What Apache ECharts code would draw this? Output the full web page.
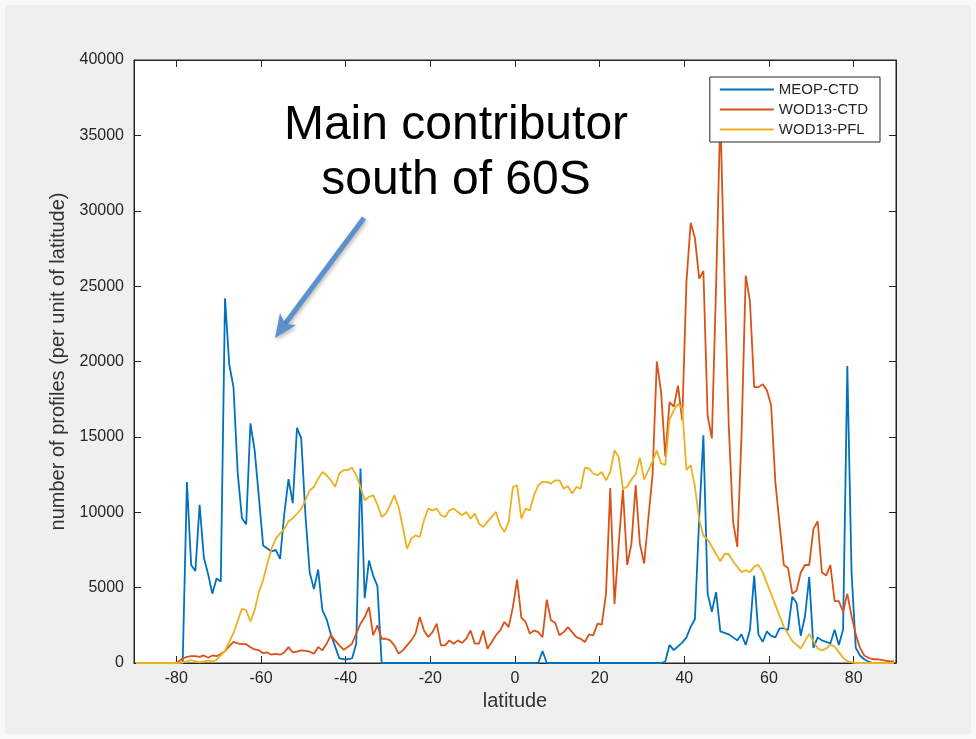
<!DOCTYPE html>
<html>
<head>
<meta charset="utf-8">
<title>Profiles per latitude</title>
<script src="https://cdn.jsdelivr.net/npm/echarts@6/dist/echarts.min.js"></script>
<style>
  html, body { margin: 0; padding: 0; background: #f8f8f8; }
  #main { width: 976px; height: 739px; }
</style>
</head>
<body>
<div id="main"></div>
<script>
// latitude bin centres, one per degree
const lat = Array.from({ length: 180 }, (_, i) => -89.5 + i);

const xTicks = [-80, -60, -40, -20, 0, 20, 40, 60, 80];
const seriesNames = ['MEOP-CTD', 'WOD13-CTD', 'WOD13-PFL'];
const seriesColors = ['#0072bd', '#d95319', '#edb120'];

const meopCtd = [
  0, 0, 0, 0, 0, 0, 0, 0, 0, 0,                                   // -89.5 .. -80.5
  0, 0, 12000, 6500, 6100, 10500, 7000, 5900, 4600, 5600,         // -79.5 .. -70.5
  5400, 24200, 19800, 18300, 12600, 9600, 9200, 15900, 14100, 11000,
  7800, 7600, 7400, 7500, 6900, 9900, 12200, 10600, 15600, 14900,
  9800, 6000, 4900, 6200, 3500, 2900, 1900, 1100, 300, 250,
  250, 300, 1300, 12900, 4300, 6800, 5800, 5100, 0, 0,            // -39.5 .. -30.5
  0, 0, 0, 0, 0, 0, 0, 0, 0, 0,
  0, 0, 0, 0, 0, 0, 0, 0, 0, 0,
  0, 0, 0, 0, 0, 0, 0, 0, 0, 0,
  0, 0, 0, 0, 0, 0, 800, 0, 0, 0,                                 // 0.5 .. 9.5
  0, 0, 0, 0, 0, 0, 0, 0, 0, 0,
  0, 0, 0, 0, 0, 0, 0, 0, 0, 0,
  0, 0, 0, 0, 0, 100, 1200, 850, 1100, 1350,                      // 30.5 .. 39.5
  1700, 2400, 2900, 9600, 15100, 4600, 3400, 4700, 2100, 2000,
  1900, 1700, 1500, 1900, 1200, 2200, 5800, 1900, 1400, 2100,
  1800, 1700, 2300, 2300, 2200, 4400, 4000, 1800, 3100, 5700,
  1000, 1700, 1500, 1400, 1300, 2200, 1200, 2200, 19700, 6000,
  1000, 500, 250, 100, 0, 0, 0, 0, 0, 0                           // 80.5 .. 89.5
];

const wod13Ctd = [
  0, 0, 0, 0, 0, 0, 0, 0, 0, 0,
  100, 300, 400, 450, 450, 400, 500, 350, 500, 450,
  600, 800, 1100, 1400, 1300, 1250, 1250, 1050, 900, 850,
  650, 700, 550, 600, 550, 700, 1050, 700, 750, 840,
  800, 750, 620, 1060, 840, 1280, 1840, 1500, 1170, 880,
  1060, 1280, 1950, 2610, 3050, 3700, 1840, 2500, 1610, 1610,
  1500, 1170, 620, 840, 1170, 1500, 1950, 3050, 2160, 1720,
  2050, 2610, 1170, 1170, 1500, 1280, 1500, 1330, 1610, 2160,
  1280, 1280, 2160, 950, 1390, 1840, 2160, 2720, 2380, 3710,
  5530, 3010, 2720, 1950, 2160, 2050, 1720, 4200, 2830, 2650,
  1840, 2050, 2380, 2050, 1720, 1610, 1390, 1900, 1840, 2610,
  2550, 4600, 11600, 3900, 7900, 11500, 6500, 7900, 11800, 7900,
  6600, 9600, 12500, 20000, 18000, 13700, 17300, 17000, 18400, 16100,
  25300, 29200, 28200, 25500, 26000, 16400, 14900, 25000, 36500, 25300,
  15700, 9400, 7700, 15000, 25700, 24000, 18300, 18300, 18500, 18100,
  17100, 12000, 9200, 6500, 6300, 4600, 4800, 6000, 6500, 6500,
  8900, 9400, 6000, 5800, 6500, 4100, 4100, 3400, 4600, 3100,
  1900, 1000, 500, 350, 250, 250, 200, 150, 120, 100
];

const wod13Pfl = [
  0, 0, 0, 0, 0, 0, 0, 0, 0, 0,
  0, 50, 100, 200, 100, 50, 100, 150, 100, 200,
  500, 800, 1400, 2000, 2800, 3600, 3500, 2750, 3500, 4700,
  5500, 6600, 7600, 8250, 8600, 8900, 9400, 9600, 9900, 10200,
  10800, 11460, 11680, 12230, 12670, 12450, 12120, 11680, 12570, 12790,
  12790, 12960, 12450, 11680, 10800, 11020, 11130, 10500, 9690, 9910,
  10470, 11130, 10350, 9020, 7580, 8250, 8470, 8360, 9460, 10240,
  10130, 10240, 9800, 9690, 10130, 10240, 10020, 9800, 10020, 9580,
  9910, 9240, 9020, 9360, 9690, 10020, 9130, 8690, 9360, 11680,
  11790, 9580, 10240, 10130, 11130, 11790, 12010, 12010, 11900, 12120,
  12120, 11570, 11720, 11240, 11680, 11570, 12960, 12900, 12570, 12450,
  12670, 12120, 12670, 14110, 13670, 11570, 11690, 12170, 12530, 13620,
  12170, 12770, 13380, 14100, 13250, 13130, 16150, 16750, 17200, 16870,
  12800, 13130, 11690, 9520, 8440, 8190, 7710, 7230, 6750, 7230,
  7230, 6750, 6390, 6030, 6150, 6030, 6390, 6510, 6030, 5300,
  4580, 3860, 3130, 2410, 1930, 1450, 1210, 960, 1450, 1930,
  1450, 960, 840, 960, 1210, 1090, 720, 360, 120, 50,
  0, 0, 0, 0, 0, 0, 0, 0, 0, 0
];

const allValues = [meopCtd, wod13Ctd, wod13Pfl];

const chart = echarts.init(document.getElementById('main'));
const font = 'Liberation Sans, Arial, Helvetica, sans-serif';
const axisColor = '#262626';

// arrow geometry for the annotation
const arrowStart = [364, 218];
const arrowTip = [275, 338];

const option = {
  backgroundColor: '#efefef',
  animation: false,
  textStyle: { fontFamily: font },
  grid: {
    left: 134, top: 60, width: 762, height: 603,
    show: true, backgroundColor: '#fff', borderColor: axisColor, borderWidth: 1
  },
  legend: {
    data: seriesNames,
    orient: 'vertical',
    right: 96, top: 77,
    backgroundColor: '#fff',
    borderColor: axisColor, borderWidth: 1,
    padding: [5, 12, 5, 10],
    itemGap: 5,
    icon: 'rect',
    itemWidth: 54, itemHeight: 2,
    textStyle: { fontSize: 15, color: axisColor, fontFamily: font, lineHeight: 14 }
  },
  xAxis: [{
    type: 'value', min: -90, max: 90,
    name: 'latitude', nameLocation: 'middle', nameGap: 25,
    nameTextStyle: { fontSize: 20, color: '#333' },
    axisLine: { onZero: false, lineStyle: { color: axisColor } },
    axisTick: { inside: true, length: 7, customValues: xTicks, lineStyle: { color: axisColor } },
    axisLabel: { customValues: xTicks, fontSize: 16, color: axisColor, margin: 8 },
    splitLine: { show: false }
  }, {
    type: 'value', min: -90, max: 90, position: 'top',
    axisLine: { onZero: false, lineStyle: { color: axisColor } },
    axisTick: { inside: true, length: 7, customValues: xTicks, lineStyle: { color: axisColor } },
    axisLabel: { show: false },
    splitLine: { show: false }
  }],
  yAxis: [{
    type: 'value', min: 0, max: 40000, interval: 5000,
    name: 'number of profiles (per unit of latitude)',
    nameLocation: 'middle', nameGap: 50,
    nameTextStyle: { fontSize: 20, color: '#333' },
    axisLine: { show: true, onZero: false, lineStyle: { color: axisColor } },
    axisTick: { show: true, inside: true, length: 7, lineStyle: { color: axisColor } },
    axisLabel: { fontSize: 16, color: axisColor, margin: 10, formatter: v => String(v) },
    splitLine: { show: false }
  }, {
    type: 'value', min: 0, max: 40000, interval: 5000, position: 'right',
    axisLine: { show: true, onZero: false, lineStyle: { color: axisColor } },
    axisTick: { show: true, inside: true, length: 7, lineStyle: { color: axisColor } },
    axisLabel: { show: false },
    splitLine: { show: false }
  }],
  series: seriesNames.map((name, k) => ({
    name: name,
    type: 'line',
    xAxisIndex: 0, yAxisIndex: 0,
    symbol: 'none',
    lineStyle: { width: 1.8, color: seriesColors[k] },
    itemStyle: { color: seriesColors[k] },
    data: lat.map((x, i) => [x, allValues[k][i]])
  })),
  graphic: [
    {
      type: 'rect', silent: true, z: 100,
      shape: { x: 0, y: 0, width: 976, height: 739 },
      style: { fill: 'none', stroke: '#f9f9f9', lineWidth: 10 }
    },
    {
      type: 'text', z: 100,
      style: { text: 'Main contributor', x: 456, y: 126, font: '48px ' + font,
               fill: '#000', textAlign: 'center', textVerticalAlign: 'middle' }
    },
    {
      type: 'text', z: 100,
      style: { text: 'south of 60S', x: 456, y: 181, font: '48px ' + font,
               fill: '#000', textAlign: 'center', textVerticalAlign: 'middle' }
    },
    {
      type: 'group', z: 100,
      children: [
        {
          type: 'line',
          shape: { x1: arrowStart[0], y1: arrowStart[1], x2: 285, y2: 324 },
          style: { stroke: '#5b91cc', lineWidth: 5, shadowBlur: 4, shadowColor: 'rgba(0,0,0,0.3)', shadowOffsetX: 1, shadowOffsetY: 2 }
        },
        {
          type: 'polygon',
          shape: { points: [arrowTip, [280, 313], [285, 324], [296, 325]] },
          style: { fill: '#5b91cc', shadowBlur: 4, shadowColor: 'rgba(0,0,0,0.3)', shadowOffsetX: 1, shadowOffsetY: 2 }
        }
      ]
    }
  ]
};

chart.setOption(option);
window.addEventListener('resize', () => { chart.resize(); });
</script>
</body>
</html>
